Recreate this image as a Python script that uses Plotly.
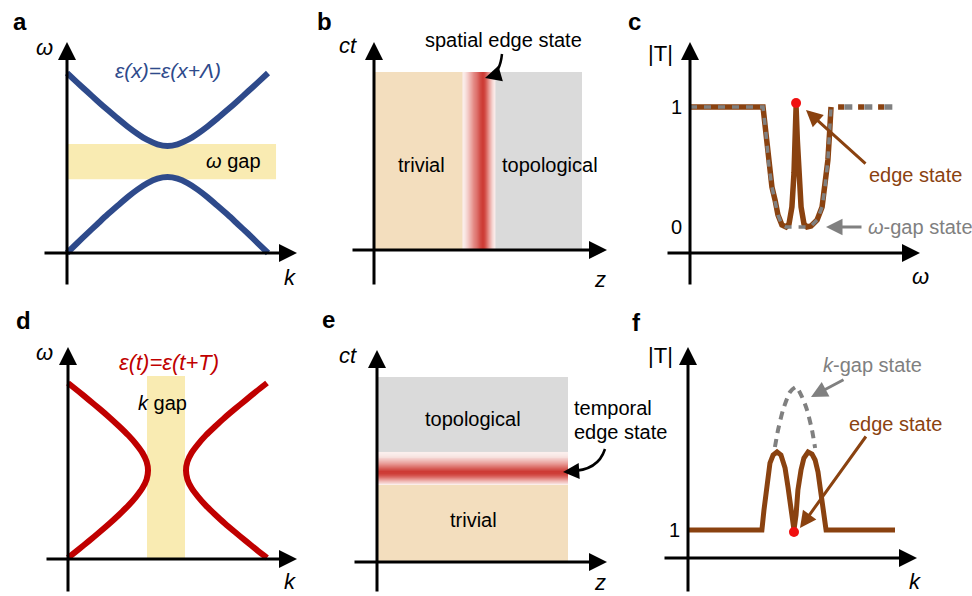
import plotly.graph_objects as go

W, H = 972, 596

# ---------------- data ----------------
# (a) spatially periodic medium: omega(k) bands
a_k = [0, 0.05, 0.1, 0.15, 0.2, 0.25, 0.3, 0.35, 0.4, 0.45, 0.5,
       0.55, 0.6, 0.65, 0.7, 0.75, 0.8, 0.85, 0.9, 0.95, 1.0]
a_upper = [1.0, 0.948, 0.897, 0.846, 0.797, 0.749, 0.704, 0.663, 0.628, 0.604, 0.595,
           0.604, 0.628, 0.663, 0.704, 0.749, 0.797, 0.846, 0.897, 0.948, 1.0]
a_lower = [0.0, 0.054, 0.108, 0.160, 0.212, 0.261, 0.309, 0.352, 0.388, 0.413, 0.422,
           0.413, 0.388, 0.352, 0.309, 0.261, 0.212, 0.160, 0.108, 0.054, 0.0]
a_gap_k = [0.0, 1.04]
a_gap_w = [0.41, 0.605]

# (b) spatial interface map
b_trivial_z = [0.0, 0.428]
b_topo_z = [0.582, 1.0]
b_ct = [0.0, 1.0]
b_edge_z = [0.43, 0.44, 0.45, 0.46, 0.47, 0.48, 0.49, 0.50, 0.51, 0.52, 0.53, 0.54, 0.55, 0.56, 0.57, 0.58]
b_edge_I = [0.05, 0.12, 0.22, 0.33, 0.45, 0.57, 0.70, 0.82, 0.94, 1.0, 0.92, 0.72, 0.50, 0.30, 0.13, 0.04]

# (c) |T| vs omega
c_edge_w = [0, 0.351, 0.365, 0.380, 0.394, 0.409, 0.423, 0.442, 0.462, 0.476, 0.490, 0.500, 0.506, 0.510,
            0.516, 0.523, 0.534, 0.548, 0.5625, 0.582, 0.611, 0.635, 0.649, 0.663, 0.671, 0.678]
c_edge_T = [1.0, 1.0, 0.783, 0.5, 0.333, 0.225, 0.1, 0.017, 0.0, 0.025, 0.167, 0.45, 0.725, 1.0,
            0.725, 0.45, 0.167, 0.025, 0.0, 0.008, 0.058, 0.167, 0.333, 0.558, 0.783, 1.0]
c_gap_w = [0, 0.351, 0.365, 0.380, 0.394, 0.409, 0.423, 0.442, 0.462, 0.5, 0.5625, 0.582, 0.611, 0.635,
           0.649, 0.663, 0.671, 0.678]
c_gap_T = [1.0, 1.0, 0.783, 0.5, 0.333, 0.225, 0.1, 0.017, 0.0, 0.0, 0.0, 0.008, 0.058, 0.167,
           0.333, 0.558, 0.783, 1.0]
c_tail_w = [0.712, 1.0]
c_tail_T = [1.0, 1.0]
c_dot = (0.51, 1.033)
c_ticks = [0, 1]

# (d) temporally periodic medium: k-gap bands
d_w = [1.0, 0.953, 0.903, 0.853, 0.803, 0.753, 0.703, 0.653, 0.603, 0.553, 0.503,
       0.453, 0.403, 0.353, 0.303, 0.253, 0.203, 0.153, 0.103, 0.053, 0.006]
d_left_k = [0.0, 0.052, 0.106, 0.159, 0.210, 0.258, 0.303, 0.342, 0.374, 0.395, 0.402,
            0.395, 0.374, 0.342, 0.303, 0.258, 0.210, 0.159, 0.106, 0.052, 0.0]
d_right_k = [1.0, 0.947, 0.893, 0.839, 0.787, 0.739, 0.693, 0.654, 0.621, 0.600, 0.593,
             0.600, 0.621, 0.654, 0.693, 0.739, 0.787, 0.839, 0.893, 0.947, 1.0]
d_gap_k = [0.397, 0.588]
d_gap_w = [0.0, 1.04]

# (e) temporal interface map
e_z = [0.0, 1.0]
e_trivial_ct = [0.0, 0.416]
e_topo_ct = [0.595, 1.0]
e_edge_ct = [0.42, 0.43, 0.44, 0.45, 0.46, 0.47, 0.48, 0.49, 0.50, 0.51, 0.52, 0.53, 0.54, 0.55, 0.56, 0.57, 0.58, 0.59]
e_edge_I = [0.05, 0.15, 0.30, 0.50, 0.70, 0.87, 0.98, 1.0, 0.93, 0.80, 0.66, 0.52, 0.40, 0.29, 0.19, 0.11, 0.06, 0.03]

# (f) |T| vs k
f_edge_k = [0, 0.357, 0.367, 0.382, 0.396, 0.411, 0.430, 0.449, 0.469, 0.483, 0.493, 0.502, 0.512, 0.522, 0.531,
            0.546, 0.560, 0.580, 0.599, 0.614, 0.628, 0.638, 0.647, 0.657, 0.667, 1.0]
f_edge_T = [1.0, 1.0, 1.714, 2.786, 3.393, 3.679, 3.786, 3.679, 3.214, 2.536, 1.964, 1.464, 1.0, 1.536, 2.429,
            3.143, 3.571, 3.786, 3.714, 3.5, 3.071, 2.536, 1.964, 1.429, 1.0, 1.0]
f_gap_k = [0.420, 0.435, 0.459, 0.493, 0.522, 0.551, 0.575, 0.599, 0.614]
f_gap_T = [3.964, 4.571, 5.286, 5.929, 6.107, 5.75, 5.286, 4.571, 3.929]
f_dot = (0.512, 0.93)
f_ticks = [1]

# ---------------- colours / style ----------------
BLUE = "#2E4A8B"
RED = "#C00000"
BROWN = "#8A4210"
GRAY = "#808080"
YELLOW = "#F9EBB2"
WHEAT = "#F3DEBE"
LGRAY = "#DADADA"
DOT = "#F01010"
FONT = "Liberation Sans, Arial, Helvetica, sans-serif"
EDGE_SCALE = [[0, "rgb(253,245,243)"], [0.5, "rgb(232,150,145)"], [1, "rgb(205,58,52)"]]

# ---------------- panel geometry (pixels) ----------------
panels = {
    'a': dict(n=1, box=(0, 0, 318, 298), org=(67, 253), sc=(201, 180)),
    'b': dict(n=2, box=(320, 0, 638, 298), org=(374, 250), sc=(208, 178)),
    'c': dict(n=3, box=(640, 0, 972, 298), org=(690, 227), sc=(208, 120)),
    'd': dict(n=4, box=(0, 298, 318, 596), org=(68, 559), sc=(199, 176)),
    'e': dict(n=5, box=(320, 298, 638, 596), org=(377, 562), sc=(191, 185)),
    'f': dict(n=6, box=(640, 298, 972, 596), org=(688, 558), sc=(207, 28)),
}


def refs(p):
    n = panels[p]['n']
    s = '' if n == 1 else str(n)
    return 'x' + s, 'y' + s


def d(p, x, y):
    ox, oy = panels[p]['org']
    sx, sy = panels[p]['sc']
    return (x - ox) / sx, (oy - y) / sy


fig = go.Figure()
layout_axes = {}
for p, g in panels.items():
    l, t, r, b = g['box']
    ox, oy = g['org']
    sx, sy = g['sc']
    n = g['n']
    s = '' if n == 1 else str(n)
    layout_axes['xaxis' + s] = dict(domain=[l / W, r / W], range=[(l - ox) / sx, (r - ox) / sx],
                                    visible=False, fixedrange=True, anchor='y' + s)
    layout_axes['yaxis' + s] = dict(domain=[1 - b / H, 1 - t / H], range=[(oy - b) / sy, (oy - t) / sy],
                                    visible=False, fixedrange=True, anchor='x' + s)

annotations = []
shapes = []


def text(p, x, y, s, size=20, color='black', xanchor='center'):
    xr, yr = refs(p)
    dx, dy = d(p, x, y)
    annotations.append(dict(x=dx, y=dy, xref=xr, yref=yr, text=s, showarrow=False,
                            xanchor=xanchor, yanchor='middle',
                            font=dict(family=FONT, size=size, color=color)))


def arrow(p, tail, tip, color='black', width=3, size=1.0):
    xr, yr = refs(p)
    tx, ty = d(p, *tip)
    ax, ay = d(p, *tail)
    annotations.append(dict(x=tx, y=ty, ax=ax, ay=ay, xref=xr, yref=yr, axref=xr, ayref=yr,
                            text='', showarrow=True, arrowhead=2, arrowsize=size,
                            arrowwidth=width, arrowcolor=color, standoff=0, startstandoff=0))


def line(p, x, y, color, width, dash='solid', shape='spline', smoothing=0.6):
    xr, yr = refs(p)
    fig.add_trace(go.Scatter(x=x, y=y, mode='lines', xaxis=xr, yaxis=yr,
                             line=dict(color=color, width=width, dash=dash, shape=shape, smoothing=smoothing),
                             hoverinfo='skip', showlegend=False))


def rect(p, x0, x1, y0, y1, color):
    xr, yr = refs(p)
    shapes.append(dict(type='rect', xref=xr, yref=yr, x0=x0, x1=x1, y0=y0, y1=y1,
                       fillcolor=color, line=dict(width=0), layer='below'))


def curved(p, a, c, b_, color='black', width=2.5):
    xr, yr = refs(p)
    A = d(p, *a); C = d(p, *c); B = d(p, *b_)
    shapes.append(dict(type='path', xref=xr, yref=yr,
                       path=f"M {A[0]},{A[1]} Q {C[0]},{C[1]} {B[0]},{B[1]}",
                       line=dict(color=color, width=width), layer='above'))


# axis arrows (pixel layout of each coordinate frame)
axis_px = {
    'a': ((43, 297, 253), (286, 42, 67)),
    'b': ((351, 607, 250), (286, 42, 374)),
    'c': ((666, 920, 253), (286, 42, 690)),
    'd': ((45, 297, 559), (593, 347, 68)),
    'e': ((353, 607, 562), (593, 350, 377)),
    'f': ((663, 917, 558), (593, 347, 688)),
}

# ---- panel a ----
rect('a', a_gap_k[0], a_gap_k[1], a_gap_w[0], a_gap_w[1], YELLOW)
line('a', a_k, a_upper, BLUE, 6)
line('a', a_k, a_lower, BLUE, 6)
text('a', 168, 70, '<i>ε(x)=ε(x+Λ)</i>', 21, BLUE)
text('a', 233, 161, '<i>ω</i> gap', 20)

# ---- panel b ----
rect('b', b_trivial_z[0], b_trivial_z[1], b_ct[0], b_ct[1], WHEAT)
rect('b', b_topo_z[0], b_topo_z[1], b_ct[0], b_ct[1], LGRAY)
fig.add_trace(go.Heatmap(x=b_edge_z, y=[b_ct[0], 0.5, b_ct[1]], z=[b_edge_I, b_edge_I], zmin=0, zmax=1,
                         colorscale=EDGE_SCALE, showscale=False, zsmooth='best', hoverinfo='skip',
                         xaxis='x2', yaxis='y2'))
text('b', 421, 165, 'trivial', 20)
text('b', 550, 165, 'topological', 20)
text('b', 503, 40, 'spatial edge state', 20)
curved('b', (502, 54), (500, 73), (490, 76))
arrow('b', (492, 76), (485, 78), 'black', 2.5, 1.3)

# ---- panel c ----
line('c', c_edge_w, c_edge_T, BROWN, 5.5, shape='linear')
line('c', c_gap_w, c_gap_T, GRAY, 3.5, dash='7px,7px', shape='linear')
line('c', c_tail_w, c_tail_T, BROWN, 5.5, dash='6px,14px', shape='linear')
line('c', [c_tail_w[0] + 0.03, c_tail_w[1]], c_tail_T, GRAY, 5.5, dash='8px,12px', shape='linear')
fig.add_trace(go.Scatter(x=[c_dot[0]], y=[c_dot[1]], mode='markers', xaxis='x3', yaxis='y3',
                         marker=dict(color=DOT, size=10), hoverinfo='skip', showlegend=False))
for tv in c_ticks:
    xr, yr = refs('c')
    annotations.append(dict(x=d('c', 684, 0)[0], y=tv, xref=xr, yref=yr, text=str(tv), showarrow=False,
                            xanchor='right', yanchor='middle', font=dict(family=FONT, size=20, color='black')))
text('c', 915, 175, 'edge state', 20, BROWN)
arrow('c', (867, 165), (806, 110), BROWN, 3, 1.1)
text('c', 866, 227, '<i>ω</i>-gap state', 20, GRAY, xanchor='left')
arrow('c', (863, 227), (826, 227), GRAY, 3, 1.1)

# ---- panel d ----
rect('d', d_gap_k[0], d_gap_k[1], d_gap_w[0], d_gap_w[1], YELLOW)
line('d', d_left_k, d_w, RED, 6)
line('d', d_right_k, d_w, RED, 6)
text('d', 169, 362, '<i>ε(t)=ε(t+T)</i>', 22, RED)
text('d', 162, 403, '<i>k</i> gap', 20)

# ---- panel e ----
rect('e', e_z[0], e_z[1], e_trivial_ct[0], e_trivial_ct[1], WHEAT)
rect('e', e_z[0], e_z[1], e_topo_ct[0], e_topo_ct[1], LGRAY)
fig.add_trace(go.Heatmap(x=[e_z[0], 0.5, e_z[1]], y=e_edge_ct, z=[[v, v] for v in e_edge_I], zmin=0, zmax=1,
                         colorscale=EDGE_SCALE, showscale=False, zsmooth='best', hoverinfo='skip',
                         xaxis='x5', yaxis='y5'))
text('e', 473, 419, 'topological', 20)
text('e', 473, 520, 'trivial', 20)
text('e', 572, 408, 'temporal', 20, xanchor='left')
text('e', 572, 432, 'edge state', 20, xanchor='left')
curved('e', (605, 449), (598, 471), (570, 471))
arrow('e', (571, 471.5), (563, 472), 'black', 2.5, 1.3)

# ---- panel f ----
line('f', f_gap_k, f_gap_T, GRAY, 4, dash='8px,6px')
line('f', f_edge_k, f_edge_T, BROWN, 5, shape='linear')
fig.add_trace(go.Scatter(x=[f_dot[0]], y=[f_dot[1]], mode='markers', xaxis='x6', yaxis='y6',
                         marker=dict(color=DOT, size=10), hoverinfo='skip', showlegend=False))
for tv in f_ticks:
    xr, yr = refs('f')
    annotations.append(dict(x=d('f', 682, 0)[0], y=tv, xref=xr, yref=yr, text=str(tv), showarrow=False,
                            xanchor='right', yanchor='middle', font=dict(family=FONT, size=20, color='black')))
text('f', 872, 365, '<i>k</i>-gap state', 20, GRAY)
arrow('f', (845, 379), (811, 397), GRAY, 3, 1.1)
text('f', 895, 424, 'edge state', 20, BROWN)
arrow('f', (867, 435), (800, 528), BROWN, 3, 1.1)

# ---- axes arrows, axis labels, panel letters ----
for p, ((x0, x1, yy), (y0, y1, xx)) in axis_px.items():
    arrow(p, (x0, yy), (x1, yy), 'black', 3, 1.2)
    arrow(p, (xx, y0), (xx, y1), 'black', 3, 1.2)

axis_labels = {
    'a': [((44, 47), '<i>ω</i>'), ((290, 277), '<i>k</i>')],
    'b': [((348, 45), '<i>ct</i>'), ((600, 279), '<i>z</i>')],
    'c': [((660, 53), '|T|'), ((920, 276), '<i>ω</i>')],
    'd': [((44, 352), '<i>ω</i>'), ((290, 581), '<i>k</i>')],
    'e': [((348, 355), '<i>ct</i>'), ((600, 582), '<i>z</i>')],
    'f': [((660, 355), '|T|'), ((915, 581), '<i>k</i>')],
}
for p, labs in axis_labels.items():
    for (x, y), s in labs:
        text(p, x, y, s, 22)

# panel letters: positioned in the frame of the panel whose area contains them
letters = [('a', 'a', 20, 21), ('b', 'b', 324, 21), ('c', 'b', 634, 21),
           ('d', 'd', 23, 320), ('e', 'e', 328, 319), ('f', 'e', 636, 322)]
for s, p, x, y in letters:
    text(p, x, y, '<b>' + s + '</b>', 24)

fig.update_layout(width=W, height=H, margin=dict(l=0, r=0, t=0, b=0),
                  paper_bgcolor='white', plot_bgcolor='rgba(0,0,0,0)',
                  showlegend=False, annotations=annotations, shapes=shapes, **layout_axes)

fig.write_html("out.html", config={'displayModeBar': False},
               post_script="document.body.style.margin='0px';document.body.style.overflow='hidden';")
